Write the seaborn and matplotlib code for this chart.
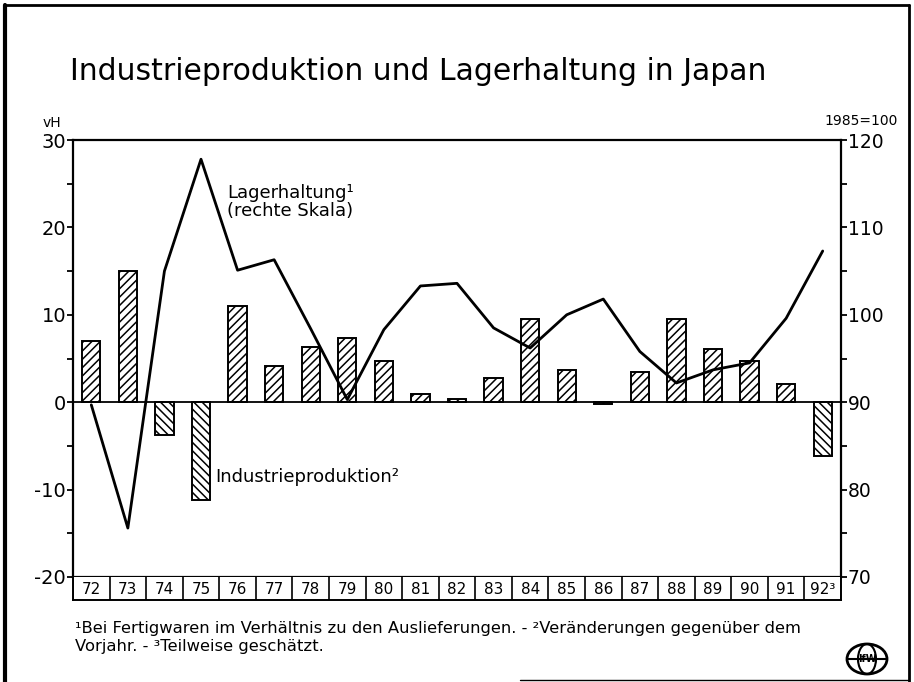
import numpy as np
import pandas as pd
import seaborn as sns
import matplotlib
matplotlib.use("Agg")
from matplotlib import pyplot as plt
from matplotlib.patches import Ellipse
from matplotlib.lines import Line2D

# Werte
years = ["72", "73", "74", "75", "76", "77", "78", "79", "80", "81", "82",
         "83", "84", "85", "86", "87", "88", "89", "90", "91", "92³"]
produktion = [7.0, 15.0, -3.8, -11.2, 11.0, 4.1, 6.3, 7.4, 4.7, 0.9, 0.4,
              2.8, 9.5, 3.7, -0.2, 3.4, 9.5, 6.1, 4.7, 2.1, -6.1]
lagerhaltung = [89.7, 75.6, 105.0, 117.8, 105.1, 106.3, 98.4, 90.3, 98.3, 103.3, 103.6,
                98.5, 96.2, 100.0, 101.8, 95.8, 92.2, 93.7, 94.5, 99.6, 107.3]

title = "Industrieproduktion und Lagerhaltung in Japan"
footnote_1 = "¹Bei Fertigwaren im Verhältnis zu den Auslieferungen. - ²Veränderungen gegenüber dem"
footnote_2 = "Vorjahr. - ³Teilweise geschätzt."

df = pd.DataFrame({
    "Jahr": years,
    "pos": np.arange(len(years)),
    "Industrieproduktion": produktion,
    "Lagerhaltung": lagerhaltung,
})

sns.set_style("ticks")
plt.rcParams["font.family"] = ["DejaVu Sans"]
plt.rcParams["hatch.linewidth"] = 1.1
plt.rcParams["axes.unicode_minus"] = False
for key in ["text.color", "axes.labelcolor", "xtick.color", "ytick.color", "axes.edgecolor"]:
    plt.rcParams[key] = "black"

W, H = 914, 682
fig = plt.figure(figsize=(W / 100, H / 100), dpi=100)
fig.patch.set_facecolor("white")

# pixel geometry of the plot frame
x0, x1 = 73, 841
y_top, y_bot = 140, 577
ax = fig.add_axes([x0 / W, 1 - y_bot / H, (x1 - x0) / W, (y_bot - y_top) / H])
ax.set_facecolor("white")

sns.barplot(data=df, x="Jahr", y="Industrieproduktion", ax=ax, color="white",
            edgecolor="black", linewidth=1.4, width=0.5, saturation=1)
for patch in ax.patches:
    patch.set_facecolor("white")
    patch.set_hatch("\\\\\\\\" if patch.get_height() < 0 else "////")

ax.axhline(0, color="black", lw=1.3, zorder=3)
ax.set_xlim(-0.5, len(years) - 0.5)
ax.set_ylim(-20, 30)
ax.set_yticks([-20, -10, 0, 10, 20, 30])
ax.set_yticks(np.arange(-15, 30, 10), minor=True)
ax.tick_params(axis="y", which="both", direction="out", length=4, width=1.3,
               pad=1, labelsize=14)
ax.tick_params(axis="x", length=0, labelbottom=False)
ax.set_xlabel("")
ax.set_ylabel("")
for side in ["left", "top", "bottom"]:
    ax.spines[side].set_linewidth(1.6)
ax.spines["right"].set_visible(False)

ax2 = ax.twinx()
sns.lineplot(data=df, x="pos", y="Lagerhaltung", ax=ax2, color="black", linewidth=2)
ax2.set_xlim(-0.5, len(years) - 0.5)
ax2.set_ylim(70, 120)
ax2.set_yticks([70, 80, 90, 100, 110, 120])
ax2.set_yticks(np.arange(75, 120, 10), minor=True)
ax2.tick_params(axis="y", which="both", direction="out", length=4, width=1.3,
                pad=1, labelsize=13.5)
ax2.set_ylabel("")
ax2.set_xlabel("")
for side in ["left", "top", "bottom"]:
    ax2.spines[side].set_visible(False)
ax2.spines["right"].set_linewidth(1.6)

# Jahreskaestchen unter der Grafik
ax_yr = fig.add_axes([x0 / W, 1 - 600 / H, (x1 - x0) / W, 23 / H], sharex=ax)
ax_yr.set_xlim(-0.5, len(years) - 0.5)
ax_yr.set_yticks([])
ax_yr.tick_params(axis="x", length=0, labelbottom=False)
for side in ["left", "right", "bottom"]:
    ax_yr.spines[side].set_linewidth(1.4)
ax_yr.spines["top"].set_visible(False)
for b in np.arange(len(years) + 1) - 0.5:
    ax_yr.axvline(b, color="black", lw=1.2)
for i, lab in enumerate(df["Jahr"]):
    ax_yr.text(i, 0.45, lab, ha="center", va="center", fontsize=11,
               transform=ax_yr.get_xaxis_transform())

# Beschriftungen im Diagramm
ax.text(3.71, 22.9, "Lagerhaltung¹\n(rechte Skala)", fontsize=13, ha="left",
        va="center", linespacing=1.0)
ax.text(3.38, -8.6, "Industrieproduktion²", fontsize=13, ha="left", va="center")

fig.text(70 / W, 1 - 72 / H, title, fontsize=21.5, ha="left", va="center")
fig.text(43 / W, 1 - 123 / H, "vH", fontsize=10, ha="left", va="center")
fig.text(898 / W, 1 - 121 / H, "1985=100", fontsize=10, ha="right", va="center")
fig.text(75 / W, 1 - 628 / H, footnote_1, fontsize=11.8, ha="left", va="center")
fig.text(75 / W, 1 - 646 / H, footnote_2, fontsize=11.8, ha="left", va="center")

# Logo
cx, cy = 867 / W, 1 - 659 / H
fig.add_artist(Ellipse((cx, cy), 40 / W, 30 / H, transform=fig.transFigure,
                       fill=False, lw=2, color="black"))
fig.add_artist(Ellipse((cx, cy), 18 / W, 30 / H, transform=fig.transFigure,
                       fill=False, lw=1.5, color="black"))
fig.add_artist(Line2D([cx - 20 / W, cx + 20 / W], [cy, cy], transform=fig.transFigure,
                      lw=1.5, color="black"))
fig.text(cx, cy, "IfW", fontsize=7, fontweight="bold", ha="center", va="center")

# Seitenrahmen
fig.add_artist(Line2D([5 / W, 5 / W], [0, 1 - 5 / H], transform=fig.transFigure, lw=3, color="black"))
fig.add_artist(Line2D([5 / W, 909 / W], [1 - 5 / H, 1 - 5 / H], transform=fig.transFigure, lw=2, color="black"))
fig.add_artist(Line2D([909 / W, 909 / W], [0, 1 - 5 / H], transform=fig.transFigure, lw=2, color="black"))
fig.add_artist(Line2D([520 / W, 909 / W], [2 / H, 2 / H], transform=fig.transFigure, lw=1, color="black"))

fig.savefig("out.png", dpi=100, facecolor="white")
plt.close(fig)
